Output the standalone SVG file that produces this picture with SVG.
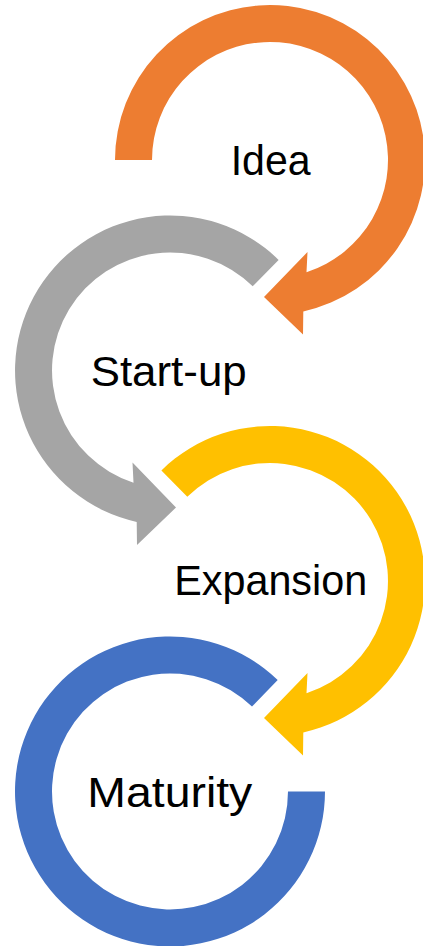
<svg xmlns="http://www.w3.org/2000/svg" width="423" height="946" viewBox="0 0 423 946">
  <style>
    .lbl { font-family: "Liberation Sans", Arial, sans-serif; font-size: 42px; fill: #000000; text-anchor: middle; }
  </style>
  <rect width="423" height="946" fill="#ffffff"/>
  <g id="idea">
    <path fill="#ED7D31" d="M115,160 A155,155 0 1 1 303.3,311.4 L303,334.5 L264,297 L307.5,252 L306.5,272.2 A118,118 0 1 0 152,160 Z"/>
    <text class="lbl" x="270.7" y="175" textLength="80" lengthAdjust="spacingAndGlyphs">Idea</text>
  </g>
  <g id="startup">
    <path fill="#A5A5A5" d="M278.6,259.9 A155,155 0 1 0 136.7,521.9 L137,545 L176,507.5 L132.5,462.5 L133.5,482.7 A118,118 0 1 1 252.7,286.3 Z"/>
    <text class="lbl" x="168.7" y="385.7" textLength="156" lengthAdjust="spacingAndGlyphs">Start-up</text>
  </g>
  <g id="expansion">
    <path fill="#FFC000" d="M161.4,470.4 A155,155 0 1 1 303.3,732.4 L303,755.5 L264,718 L307.5,673 L306.5,693.2 A118,118 0 1 0 187.3,496.8 Z"/>
    <text class="lbl" x="270.7" y="595" textLength="193" lengthAdjust="spacingAndGlyphs">Expansion</text>
  </g>
  <g id="maturity">
    <path fill="#4472C4" d="M325,791.5 A155,155 0 1 1 277.7,680 L252,706.6 A118,118 0 1 0 288,791.5 Z"/>
    <text class="lbl" x="169.8" y="806.7" textLength="165" lengthAdjust="spacingAndGlyphs">Maturity</text>
  </g>
  <g id="connectors"/>
</svg>
